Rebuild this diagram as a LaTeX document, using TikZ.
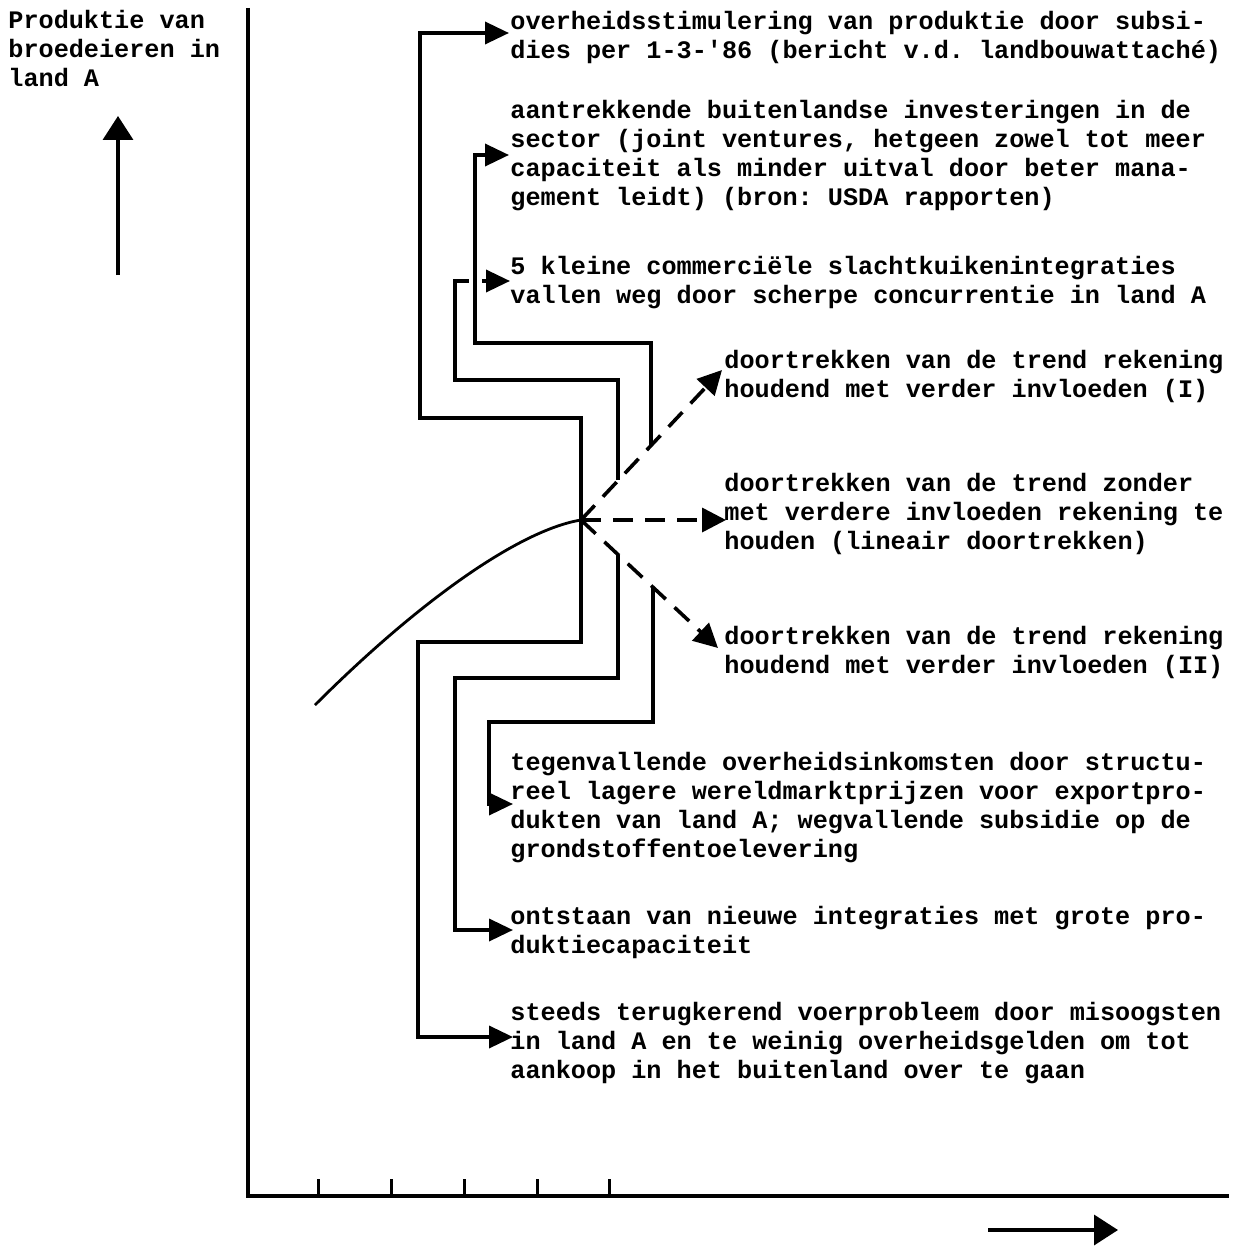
\documentclass[tikz,border=0pt]{standalone}
\usepackage{fontspec}
\newfontfamily\twfont{Liberation Mono}
\usetikzlibrary{arrows.meta}
\newcommand\txtblock[1]{\begin{tabular}[t]{@{}l@{}}#1\end{tabular}}
\frenchspacing
\begin{document}
\begin{tikzpicture}[x=0.5pt,y=-0.5pt,
  txt/.style={anchor=base west,inner sep=0pt,font=\twfont\bfseries\fontsize{12.6}{14.5}\selectfont},
  ln/.style={line width=1.8pt,line join=miter},
  arr/.style={ln,-{Triangle[length=12pt,width=11pt]}},
  dsh/.style={line width=1.8pt,dash pattern=on 10pt off 6pt,-{Triangle[length=12pt,width=12pt]}},
  axisline/.style={line width=2.3pt},
  tick/.style={line width=1.5pt},
  bigarr/.style={line width=1.8pt,-{Triangle[length=12pt,width=15pt]}}]
\useasboundingbox (0,0) rectangle (1241,1247);

% labels
\node[txt] (ylab) at (8,29) {\txtblock{Produktie van\\broedeieren in\\land A}};
\node[txt] (t1) at (510,30) {\txtblock{overheidsstimulering van produktie door subsi-\\dies per 1-3-'86 (bericht v.d. landbouwattaché)}};
\node[txt] (t2) at (510,119) {\txtblock{aantrekkende buitenlandse investeringen in de\\sector (joint ventures, hetgeen zowel tot meer\\capaciteit als minder uitval door beter mana-\\gement leidt) (bron: USDA rapporten)}};
\node[txt] (t3) at (510,274) {\txtblock{5 kleine commerciële slachtkuikenintegraties\\vallen weg door scherpe concurrentie in land A}};
\node[txt] (t4) at (724,368) {\txtblock{doortrekken van de trend rekening\\houdend met verder invloeden (I)}};
\node[txt] (t5) at (724,491) {\txtblock{doortrekken van de trend zonder\\met verdere invloeden rekening te\\houden (lineair doortrekken)}};
\node[txt] (t6) at (724,644) {\txtblock{doortrekken van de trend rekening\\houdend met verder invloeden (II)}};
\node[txt] (t7) at (510,770) {\txtblock{tegenvallende overheidsinkomsten door structu-\\reel lagere wereldmarktprijzen voor exportpro-\\dukten van land A; wegvallende subsidie op de\\grondstoffentoelevering}};
\node[txt] (t8) at (510,924) {\txtblock{ontstaan van nieuwe integraties met grote pro-\\duktiecapaciteit}};
\node[txt] (t9) at (510,1020) {\txtblock{steeds terugkerend voerprobleem door misoogsten\\in land A en te weinig overheidsgelden om tot\\aankoop in het buitenland over te gaan}};

% axes
\coordinate (O) at (248,1196);
\coordinate (ytop) at (248,8);
\coordinate (xend) at (1229,1196);
\draw[axisline] (ytop) -- (O) -- (xend);
\foreach \tx in {318,391,464,537,609}
  \draw[tick] (\tx,1196) -- (\tx,1179);
\coordinate (ya0) at (118,275);
\coordinate (ya1) at (118,116);
\draw[bigarr] (ya0) -- (ya1);
\coordinate (xa0) at (988,1230);
\coordinate (xa1) at (1118,1230);
\draw[bigarr] (xa0) -- (xa1);

% trend curve and projections
\coordinate (J) at (581,520);
\coordinate (cs) at (315,705);
\draw[line width=1.4pt] (cs) .. controls (420,600) and (520,530) .. (J);
\coordinate (pI) at (722,370);
\coordinate (pL) at (726,520);
\coordinate (pII) at (718,648);
\draw[dsh] (J) -- (pI);
\draw[dsh] (J) -- (pL);
\draw[dsh] (J) -- (pII);

% influence connectors (upper)
\draw[arr] (J) -- (581,418) -- (420,418) -- (420,33) -- (509,33);
\draw[arr] (651,445) -- (651,343) -- (475,343) -- (475,155) -- (509,155);
\draw[ln] (618,480) -- (618,380) -- (455,380) -- (455,281) -- (469,281);
\draw[arr] (482,281) -- (510,281);

% influence connectors (lower)
\draw[arr] (J) -- (581,642) -- (418,642) -- (418,1037) -- (513,1037);
\draw[arr] (618,555) -- (618,678) -- (455,678) -- (455,930) -- (513,930);
\draw[arr] (653,587) -- (653,722) -- (489,722) -- (489,804) -- (513,804);
\end{tikzpicture}
\end{document}
